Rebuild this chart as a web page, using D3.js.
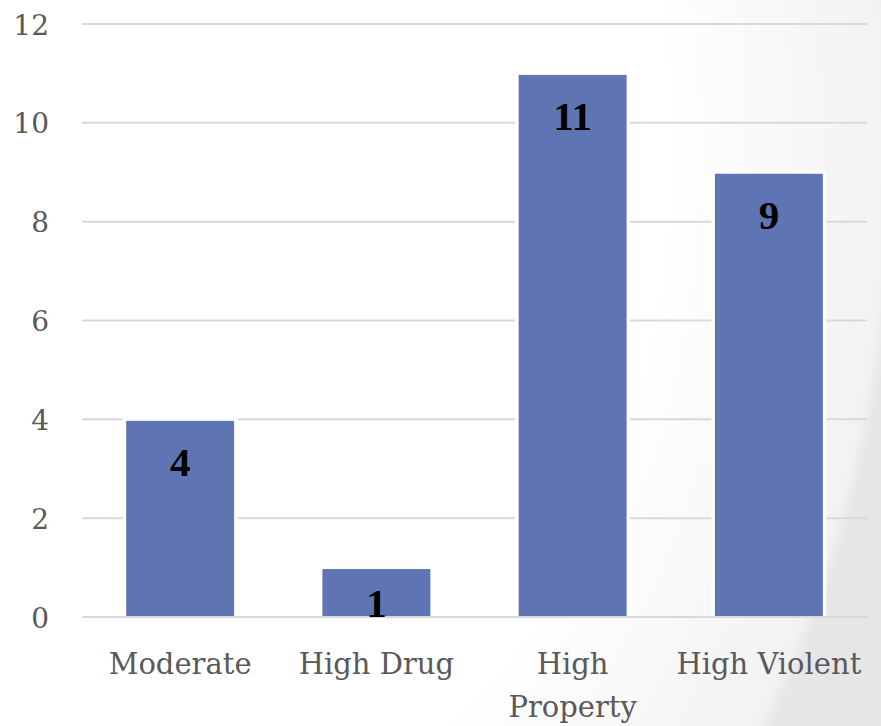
<!DOCTYPE html>
<html>
<head>
<meta charset="utf-8">
<script src="https://cdn.jsdelivr.net/npm/d3@7"></script>
<style>
  html, body { margin: 0; padding: 0; background: #fff; }
  svg { display: block; }
</style>
</head>
<body>
<svg id="chart" width="881" height="726"></svg>
<script>
// Count of people per risk group
const categories = [["Moderate"], ["High Drug"], ["High", "Property"], ["High Violent"]];
const values = [4, 1, 11, 9];
const yTicks = [0, 2, 4, 6, 8, 10, 12];

const W = 881, H = 726;
const margin = { left: 82, right: 14, top: 24, bottom: 109 };
const svg = d3.select("#chart");

// Soft grey wash toward the right-hand side of the slide
const defs = svg.append("defs");
const grad = defs.append("radialGradient")
  .attr("id", "bg")
  .attr("gradientUnits", "userSpaceOnUse")
  .attr("cx", 0).attr("cy", 0).attr("r", 1)
  .attr("gradientTransform", "translate(200,150) scale(700,1000)");
grad.append("stop").attr("offset", 0.66).attr("stop-color", "#ffffff");
grad.append("stop").attr("offset", 0.98).attr("stop-color", "#f2f2f2");
grad.append("stop").attr("offset", 1.13).attr("stop-color", "#e6e6e6");
svg.append("rect").attr("width", W).attr("height", H).attr("fill", "url(#bg)");

const x = d3.scaleBand()
  .domain(d3.range(categories.length))
  .range([margin.left, W - margin.right])
  .paddingInner(0.45).paddingOuter(0.225);

const y = d3.scaleLinear()
  .domain([0, 12])
  .range([H - margin.bottom, margin.top]);

const serif = "'Palatino Linotype', 'Book Antiqua', Palatino, 'DejaVu Serif', serif";
const boldSerif = "'Palatino Linotype', 'Book Antiqua', Palatino, 'Liberation Serif', serif";

// Horizontal gridlines
svg.append("g")
  .selectAll("line")
  .data(yTicks.filter(t => t !== 0))
  .join("line")
  .attr("x1", margin.left).attr("x2", W - margin.right)
  .attr("y1", d => y(d)).attr("y2", d => y(d))
  .attr("stroke", "#d9d9d9").attr("stroke-width", 2);

// Y axis labels
const yAxis = d3.axisLeft(y).tickValues(yTicks).tickSize(0).tickPadding(0);
const gy = svg.append("g").attr("transform", "translate(49,0)").call(yAxis);
gy.select(".domain").remove();
gy.selectAll("text")
  .attr("font-family", serif)
  .attr("font-size", 28)
  .attr("fill", "#595959")
  .attr("dy", "0.36em");

// Bars with a white halo (the halo overlaps the bar top slightly)
const bars = svg.append("g");
bars.selectAll("rect.halo")
  .data(values)
  .join("rect")
  .attr("class", "halo")
  .attr("x", (d, i) => x(i) - 3.5)
  .attr("width", x.bandwidth() + 7)
  .attr("y", d => y(d) - 2)
  .attr("height", d => y(0) - y(d) + 2)
  .attr("fill", "#ffffff");
bars.selectAll("rect.bar")
  .data(values)
  .join("rect")
  .attr("class", "bar")
  .attr("x", (d, i) => x(i))
  .attr("width", x.bandwidth())
  .attr("y", d => y(d) + 1.5)
  .attr("height", d => y(0) - y(d) - 1.5)
  .attr("fill", "#5f75b3");

// Baseline
svg.append("line")
  .attr("x1", margin.left).attr("x2", W - margin.right)
  .attr("y1", y(0)).attr("y2", y(0))
  .attr("stroke", "#d9d9d9").attr("stroke-width", 2);

// Value labels inside the bar tops
svg.append("g")
  .selectAll("text")
  .data(values)
  .join("text")
  .attr("x", (d, i) => x(i) + x.bandwidth() / 2)
  .attr("y", d => Math.min(y(d) + 57, y(0)))
  .attr("text-anchor", "middle")
  .attr("font-family", boldSerif)
  .attr("font-weight", "bold")
  .attr("font-size", 41)
  .attr("fill", "#000000")
  .text(d => d);

// Category labels
const xAxis = d3.axisBottom(x).tickSize(0).tickFormat("");
const gx = svg.append("g").attr("transform", `translate(0,${y(0)})`).call(xAxis);
gx.select(".domain").remove();
gx.selectAll(".tick").each(function (i) {
  const t = d3.select(this).append("text")
    .attr("text-anchor", "middle")
    .attr("font-family", serif)
    .attr("font-size", 29)
    .attr("fill", "#595959");
  categories[i].forEach((line, k) => {
    t.append("tspan").attr("x", 0).attr("y", 57 + k * 43).text(line);
  });
});
</script>
</body>
</html>
